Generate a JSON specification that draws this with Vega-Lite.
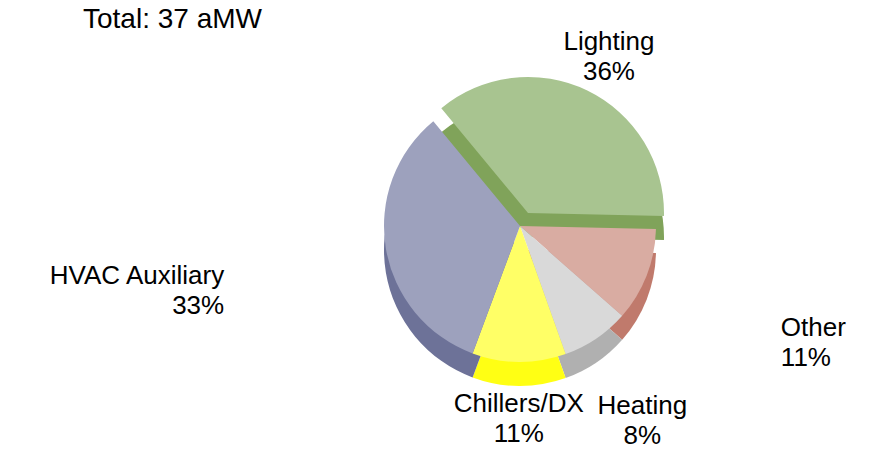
{
  "$schema": "https://vega.github.io/schema/vega-lite/v6.json",
  "width": 724,
  "height": 384,
  "autosize": {"type": "none"},
  "padding": {"left": 158, "top": 34, "right": 0, "bottom": 41},
  "background": "white",
  "title": {
    "text": "Total: 37 aMW",
    "anchor": "start",
    "frame": "group",
    "dx": -75,
    "offset": 10,
    "dy": 15,
    "font": "Liberation Sans",
    "fontSize": 28,
    "fontWeight": "normal",
    "color": "black"
  },
  "data": {
    "values": [
      {"category": "Lighting", "value": 36, "rank": 1, "label": "Lighting\n36%"},
      {"category": "Other", "value": 11, "rank": 2, "label": "Other\n11%"},
      {"category": "Heating", "value": 8, "rank": 3, "label": "Heating\n8%"},
      {"category": "Chillers/DX", "value": 11, "rank": 4, "label": "Chillers/DX\n11%"},
      {"category": "HVAC Auxiliary", "value": 33, "rank": 5, "label": "HVAC Auxiliary\n33%"}
    ]
  },
  "encoding": {
    "theta": {
      "field": "value",
      "type": "quantitative",
      "stack": true,
      "scale": {"domain": [0, 99], "range": [-0.6912, 5.592]}
    },
    "order": {"field": "rank", "type": "quantitative", "sort": "ascending"}
  },
  "layer": [
    {
      "mark": {"type": "arc", "radius": 136, "xOffset": 8, "yOffset": 11},
      "encoding": {
        "fill": {
          "field": "category",
          "type": "nominal",
          "legend": null,
          "scale": {
            "domain": ["Lighting", "Other", "Heating", "Chillers/DX", "HVAC Auxiliary"],
            "range": ["#80A35A", "#C07A6C", "#B0B0B0", "#FFFF14", "#6D7298"]
          }
        },
        "opacity": {"condition": {"test": "datum.category === 'Lighting'", "value": 1}, "value": 0}
      }
    },
    {
      "mark": {"type": "arc", "radius": 136, "xOffset": 8, "yOffset": -13},
      "encoding": {
        "color": {
          "field": "category",
          "type": "nominal",
          "legend": null,
          "scale": {
            "domain": ["Lighting", "Other", "Heating", "Chillers/DX", "HVAC Auxiliary"],
            "range": ["#A8C490", "#D9ACA2", "#D9D9D9", "#FFFF66", "#9DA1BD"]
          }
        },
        "opacity": {"condition": {"test": "datum.category === 'Lighting'", "value": 1}, "value": 0}
      }
    },
    {
      "mark": {"type": "arc", "radius": 136, "yOffset": 24},
      "encoding": {
        "fill": {"field": "category", "type": "nominal", "legend": null},
        "opacity": {"condition": {"test": "datum.category !== 'Lighting'", "value": 1}, "value": 0}
      }
    },
    {
      "mark": {"type": "arc", "radius": 136},
      "encoding": {
        "color": {"field": "category", "type": "nominal", "legend": null},
        "opacity": {"condition": {"test": "datum.category !== 'Lighting'", "value": 1}, "value": 0}
      }
    },
    {
      "mark": {
        "type": "text",
        "font": "Liberation Sans",
        "fontSize": 26,
        "lineHeight": 30,
        "lineBreak": "\n",
        "baseline": "middle",
        "color": "black",
        "align": {"expr": "datum.category === 'HVAC Auxiliary' ? 'right' : (datum.category === 'Other' ? 'left' : 'center')"}
      },
      "encoding": {
        "text": {"field": "label", "type": "nominal"},
        "radius": {"value": {"expr": "datum.category === 'HVAC Auxiliary' ? 300 : (datum.category === 'Other' ? 280 : (datum.category === 'Heating' ? 218 : (datum.category === 'Chillers/DX' ? 178 : 204)))"}}
      }
    }
  ]
}
